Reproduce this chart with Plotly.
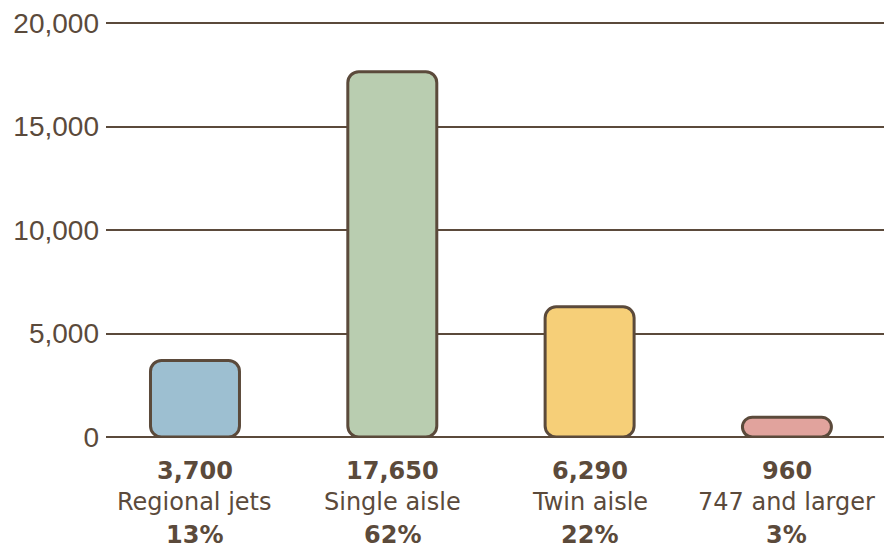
import plotly.graph_objects as go

categories = ["Regional jets", "Single aisle", "Twin aisle", "747 and larger"]
values = [3700, 17650, 6290, 960]
shares = ["13%", "62%", "22%", "3%"]
value_labels = ["3,700", "17,650", "6,290", "960"]
colors = ["#9dbfd1", "#b9cdb0", "#f6cf78", "#e1a39d"]
y_ticks = [0, 5000, 10000, 15000, 20000]
y_ticklabels = ["0", "5,000", "10,000", "15,000", "20,000"]

INK = "#5b4a3b"
Y_TOP = 20100
LABEL_FONT = "DejaVu Sans, Verdana, sans-serif"
bases = [0 for _ in values]  # explicit base -> all four corners rounded

fig = go.Figure()
fig.add_trace(go.Bar(x=categories, y=values, base=bases, width=0.451,
                     marker=dict(color=colors, line=dict(color=INK, width=3),
                                 cornerradius=11),
                     hoverinfo="skip", showlegend=False))

# three-line category labels under each bar
rows = [
    (value_labels, "<b>{}</b>", -34),
    (categories, "{}", -64.5),
    (shares, "<b>{}</b>", -98),
]
for texts, fmt, shift in rows:
    for cat, t in zip(categories, texts):
        fig.add_annotation(x=cat, xref="x", y=0, yref="paper", text=fmt.format(t),
                           showarrow=False, xanchor="center", yanchor="middle",
                           yshift=shift, font=dict(family=LABEL_FONT, size=24, color=INK))

plot_h = 548 - 111 - 23
top_margin = 23 - plot_h * (Y_TOP - 20000) / 20000

fig.update_layout(
    width=884, height=548,
    margin=dict(l=106, r=0, t=top_margin, b=111),
    paper_bgcolor="white", plot_bgcolor="white",
    font=dict(family="Liberation Sans, Arial, sans-serif", color=INK),
    xaxis=dict(range=[-0.451, 3.492], showticklabels=False, showgrid=False, zeroline=False,
               showline=False, ticks="", fixedrange=True, automargin=False),
    yaxis=dict(range=[0, Y_TOP], tickmode="array", tickvals=y_ticks, ticktext=y_ticklabels,
               tickfont=dict(size=28, color=INK), showgrid=True, gridcolor=INK, gridwidth=1.6,
               zeroline=True, zerolinecolor=INK, zerolinewidth=1.6, showline=False,
               ticks="", ticklabelstandoff=6, fixedrange=True, automargin=False),
)

fig.write_html("out.html", config={"displayModeBar": False},
               post_script="document.body.style.margin='0';")
